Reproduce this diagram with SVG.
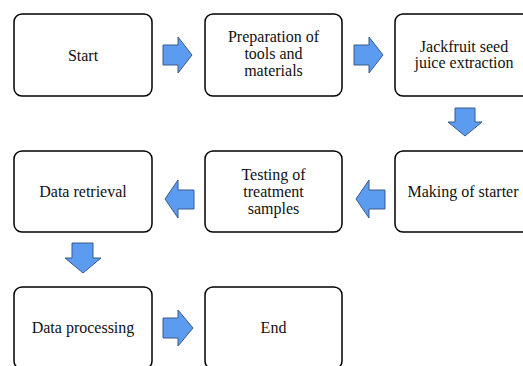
<svg xmlns="http://www.w3.org/2000/svg" width="523" height="366" viewBox="0 0 523 366">
<style>
.box{fill:#fff;stroke:#000;stroke-width:1.5}
.t{font-family:'Liberation Serif','Times New Roman',serif;font-size:16px;fill:#111;text-anchor:middle}
.arr{fill:#5B9BF0;stroke:#3B5A8A;stroke-width:1}
</style>
<rect width="523" height="366" fill="#fff"/>
<g id="connectors">
<path class="arr" d="M163,45 H178 V37 L192,55 L178,73 V65 H163 Z"/>
<path class="arr" d="M354,45 H369 V37 L383,55 L369,73 V65 H354 Z"/>
<path class="arr" d="M455,108 H475 V122 H482 L465,136 L448,122 H455 Z"/>
<path class="arr" d="M385,190 H369 V180 L356,199 L369,218 V209 H385 Z"/>
<path class="arr" d="M194,190 H178 V180 L165,199 L178,218 V209 H194 Z"/>
<path class="arr" d="M72,243 H93 V258 H101 L83,273 L65,258 H72 Z"/>
<path class="arr" d="M163,318 H178 V310 L193,328 L178,346 V338 H163 Z"/>
</g>
<g id="n1"><rect class="box" x="14" y="14" width="138" height="82" rx="8"/><text class="t" x="83" y="60.5">Start</text></g>
<g id="n2"><rect class="box" x="205" y="14" width="137" height="82" rx="8"/><text class="t" x="273.5" y="42">Preparation of</text><text class="t" x="273.5" y="59">tools and</text><text class="t" x="273.5" y="76">materials</text></g>
<g id="n3"><rect class="box" x="395" y="14" width="138" height="82" rx="8"/><text class="t" x="464" y="51.5">Jackfruit seed</text><text class="t" x="464" y="67.5">juice extraction</text></g>
<g id="n4"><rect class="box" x="395" y="151" width="138" height="81" rx="8"/><text class="t" x="463" y="197">Making of starter</text></g>
<g id="n5"><rect class="box" x="205" y="151" width="137" height="81" rx="8"/><text class="t" x="273.5" y="180">Testing of</text><text class="t" x="273.5" y="197">treatment</text><text class="t" x="273.5" y="213.5">samples</text></g>
<g id="n6"><rect class="box" x="14" y="151" width="138" height="81" rx="8"/><text class="t" x="83" y="197">Data retrieval</text></g>
<g id="n7"><rect class="box" x="14" y="287" width="138" height="82" rx="8"/><text class="t" x="83" y="333">Data processing</text></g>
<g id="n8"><rect class="box" x="205" y="287" width="137" height="82" rx="8"/><text class="t" x="273.5" y="333">End</text></g>
</svg>
